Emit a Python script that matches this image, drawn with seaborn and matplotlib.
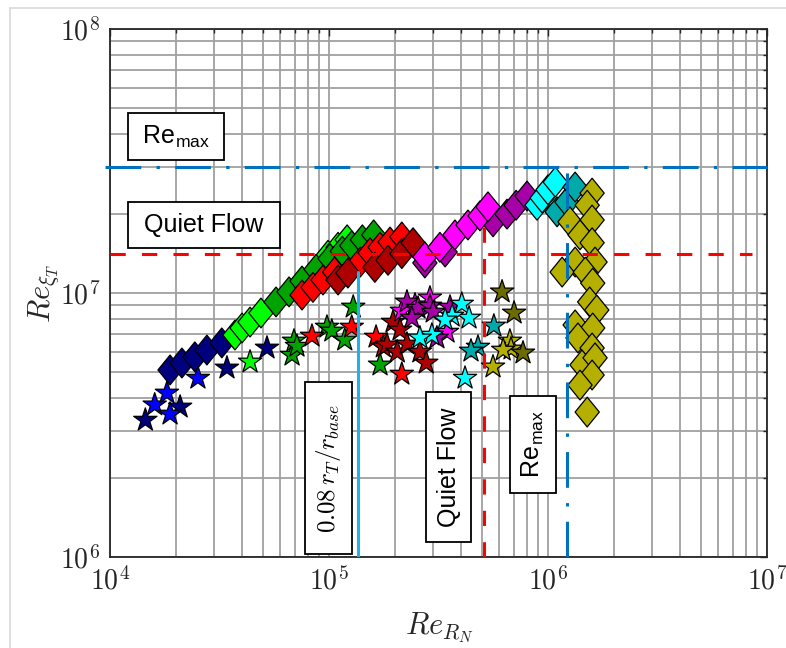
import matplotlib
matplotlib.use("Agg")
import matplotlib.pyplot as plt
from matplotlib.patches import Rectangle
from matplotlib.lines import Line2D
from matplotlib.path import Path
from matplotlib.markers import MarkerStyle
from matplotlib.ticker import LogLocator, NullFormatter
import seaborn as sns
import pandas as pd

sns.set_theme(style="white")
plt.rcParams["font.family"] = ["Liberation Sans", "DejaVu Sans"]
plt.rcParams["mathtext.fontset"] = "cm"

# ---------------------------------------------------------------- colours
series_colors = {
    "navy": "#00007F",
    "blue": "#0000FF",
    "lime": "#00FF00",
    "green": "#00A300",
    "red": "#FF0000",
    "darkred": "#AE0000",
    "magenta": "#FF00FF",
    "purple": "#A800A8",
    "cyan": "#00FFFF",
    "teal": "#00AAAA",
    "olive": "#B5B000",
    "darkolive": "#6B6B00",
}

# ---------------------------------------------------------------- diamond series (Re_RN, Re_xiT)
dia_navy_x = [1.88e4, 2.13e4, 2.44e4, 2.77e4, 3.24e4]
dia_navy_y = [5.11e6, 5.43e6, 5.73e6, 6.08e6, 6.47e6]

dia_lime_x = [3.72e4, 4.01e4, 4.36e4, 4.89e4, 9.9e4, 1.10e5, 1.21e5]
dia_lime_y = [6.93e6, 7.37e6, 7.76e6, 8.40e6, 1.39e7, 1.49e7, 1.59e7]

dia_green_x = [5.73e4, 6.57e4, 7.53e4, 8.73e4, 1.01e5, 1.15e5, 1.27e5, 1.42e5, 1.60e5]
dia_green_y = [9.25e6, 1.01e7, 1.11e7, 1.23e7, 1.35e7, 1.44e7, 1.51e7, 1.59e7, 1.66e7]

dia_red_x = [7.53e4, 8.45e4, 9.39e4, 1.06e5, 1.39e5, 1.54e5, 1.71e5, 1.90e5, 2.15e5]
dia_red_y = [9.82e6, 1.05e7, 1.12e7, 1.20e7, 1.31e7, 1.42e7, 1.49e7, 1.56e7, 1.63e7]

dia_darkred_x = [1.10e5, 1.22e5, 1.62e5, 1.86e5, 2.15e5, 2.42e5]
dia_darkred_y = [1.12e7, 1.19e7, 1.25e7, 1.33e7, 1.41e7, 1.55e7]

dia_purple_x = [2.74e5, 3.39e5, 5.61e5, 6.50e5, 7.15e5, 8.02e5]
dia_purple_y = [1.30e7, 1.43e7, 1.86e7, 1.99e7, 2.15e7, 2.33e7]

dia_magenta_x = [2.74e5, 3.21e5, 3.76e5, 4.31e5, 4.89e5, 5.32e5]
dia_magenta_y = [1.37e7, 1.49e7, 1.66e7, 1.81e7, 1.96e7, 2.12e7]

dia_cyan_x = [8.91e5, 9.40e5, 1.00e6, 1.08e6]
dia_cyan_y = [2.15e7, 2.29e7, 2.46e7, 2.63e7]

dia_teal_x = [1.10e6, 1.22e6, 1.33e6]
dia_teal_y = [2.03e7, 2.21e7, 2.52e7]

dia_olive_x = [1.59e6, 1.51e6, 1.26e6, 1.59e6, 1.40e6, 1.59e6, 1.33e6, 1.16e6, 1.64e6,
               1.48e6, 1.60e6, 1.55e6, 1.67e6, 1.33e6, 1.60e6, 1.37e6, 1.59e6, 1.43e6,
               1.64e6, 1.59e6, 1.40e6, 1.51e6]
dia_olive_y = [2.39e7, 2.15e7, 1.86e7, 1.89e7, 1.66e7, 1.55e7, 1.31e7, 1.20e7, 1.31e7,
               1.20e7, 1.09e7, 9.25e6, 8.62e6, 7.57e6, 7.37e6, 6.76e6, 6.19e6, 5.34e6,
               5.68e6, 4.89e6, 4.48e6, 3.54e6]

# ---------------------------------------------------------------- star series (Re_RN, Re_xiT)
star_navy_x = [1.45e4, 2.09e4, 3.42e4, 5.21e4]
star_navy_y = [3.30e6, 3.70e6, 5.20e6, 6.19e6]

star_blue_x = [1.60e4, 1.82e4, 1.88e4, 2.52e4]
star_blue_y = [3.77e6, 4.18e6, 3.48e6, 4.76e6]

star_lime_x = [4.36e4]
star_lime_y = [5.48e6]

star_green_x = [6.92e4, 6.78e4, 7.14e4, 9.79e4, 1.03e5, 1.29e5, 1.18e5, 1.71e5]
star_green_y = [6.58e6, 5.82e6, 6.29e6, 7.43e6, 7.18e6, 8.85e6, 6.64e6, 5.34e6]

star_red_x = [8.36e4, 1.27e5, 1.64e5, 2.15e5]
star_red_y = [6.87e6, 7.43e6, 6.81e6, 4.93e6]

star_darkred_x = [1.96e5, 2.11e5, 1.77e5, 1.84e5, 2.05e5, 2.27e5, 2.60e5, 2.78e5]
star_darkred_y = [7.76e6, 7.25e6, 6.25e6, 6.36e6, 5.98e6, 6.41e6, 5.98e6, 5.43e6]

star_magenta_x = [2.15e5, 2.47e5, 2.89e5, 3.46e5]
star_magenta_y = [8.55e6, 9.02e6, 9.58e6, 7.11e6]

star_purple_x = [2.27e5, 2.55e5, 2.89e5, 2.99e5, 3.57e5, 3.11e5, 2.39e5]
star_purple_y = [9.25e6, 8.77e6, 8.93e6, 8.47e6, 8.85e6, 6.76e6, 8.04e6]

star_cyan_x = [4.04e5, 4.36e5, 3.65e5, 2.95e5, 2.60e5, 4.18e5, 3.39e5]
star_cyan_y = [9.08e6, 8.04e6, 8.18e6, 6.93e6, 6.76e6, 4.76e6, 7.91e6]

star_teal_x = [5.66e5, 4.79e5, 4.45e5]
star_teal_y = [7.50e6, 6.24e6, 6.03e6]

star_olive_x = [6.70e5, 6.78e5, 5.61e5, 6.24e5]
star_olive_y = [6.58e6, 6.14e6, 5.25e6, 6.08e6]

star_darkolive_x = [6.17e5, 7.00e5, 7.69e5]
star_darkolive_y = [1.01e7, 8.40e6, 5.93e6]

# ---------------------------------------------------------------- reference levels
re_max_level = 3.0e7        # Re_max on Re_xiT
re_max_level_start = 9.5e3  # left end of the Re_max level line
quiet_level = 1.4e7         # quiet-flow limit on Re_xiT
quiet_level_end = 8.5e6     # right end of the quiet-flow level line
re_max_rn = 1.22e6          # Re_max on Re_RN
quiet_rn = 5.1e5            # quiet-flow limit on Re_RN
quiet_rn_top = 1.8e7
rtip_rn = 1.36e5            # 0.08 r_T / r_base on Re_RN
rtip_rn_top = 1.2e7

x_limits = [1e4, 1e7]
y_limits = [1e6, 1e8]
x_ticks = [1e4, 1e5, 1e6, 1e7]
x_tick_labels = [r"$10^{4}$", r"$10^{5}$", r"$10^{6}$", r"$10^{7}$"]
y_ticks = [1e6, 1e7, 1e8]
y_tick_labels = [r"$10^{6}$", r"$10^{7}$", r"$10^{8}$"]


def make_frame(series):
    parts = [pd.DataFrame({"Re_RN": x, "Re_xiT": y, "series": name}) for name, x, y in series]
    return pd.concat(parts, ignore_index=True)


diamonds = make_frame([
    ("navy", dia_navy_x, dia_navy_y),
    ("lime", dia_lime_x, dia_lime_y),
    ("green", dia_green_x, dia_green_y),
    ("red", dia_red_x, dia_red_y),
    ("darkred", dia_darkred_x, dia_darkred_y),
    ("purple", dia_purple_x, dia_purple_y),
    ("magenta", dia_magenta_x, dia_magenta_y),
    ("cyan", dia_cyan_x, dia_cyan_y),
    ("teal", dia_teal_x, dia_teal_y),
    ("olive", dia_olive_x, dia_olive_y),
])

stars = make_frame([
    ("navy", star_navy_x, star_navy_y),
    ("blue", star_blue_x, star_blue_y),
    ("lime", star_lime_x, star_lime_y),
    ("green", star_green_x, star_green_y),
    ("red", star_red_x, star_red_y),
    ("darkred", star_darkred_x, star_darkred_y),
    ("magenta", star_magenta_x, star_magenta_y),
    ("purple", star_purple_x, star_purple_y),
    ("cyan", star_cyan_x, star_cyan_y),
    ("teal", star_teal_x, star_teal_y),
    ("olive", star_olive_x, star_olive_y),
    ("darkolive", star_darkolive_x, star_darkolive_y),
])

# slightly tall diamond marker
diamond = MarkerStyle(Path([(0, 1.23), (1, 0), (0, -1.23), (-1, 0), (0, 1.23)],
                           [Path.MOVETO, Path.LINETO, Path.LINETO, Path.LINETO, Path.CLOSEPOLY]))

fig = plt.figure(figsize=(7.86, 6.48), dpi=100)
ax = fig.add_axes([110 / 786, 91 / 648, 657 / 786, 528 / 648])
ax.set_xscale("log")
ax.set_yscale("log")

sns.scatterplot(data=diamonds, x="Re_RN", y="Re_xiT", hue="series", palette=series_colors,
                marker=diamond, s=460, edgecolor="black", linewidth=0.9, legend=False,
                ax=ax, zorder=3)
sns.scatterplot(data=stars, x="Re_RN", y="Re_xiT", hue="series", palette=series_colors,
                marker="*", s=310, edgecolor="black", linewidth=0.9, legend=False,
                ax=ax, zorder=3)

# reference lines
blue = "#0072BD"
dashdot = (11.7, 5, 1.1, 5)
dashed = (5, 5.3)
ax.plot([re_max_level_start, x_limits[1]], [re_max_level, re_max_level], color=blue, lw=2.2,
        dashes=dashdot, zorder=4, clip_on=False)
ax.plot([x_limits[0], quiet_level_end], [quiet_level, quiet_level], color="#FF0000", lw=2.2,
        dashes=dashed, zorder=4)
ax.plot([re_max_rn, re_max_rn], [y_limits[0], re_max_level], color=blue, lw=2.2,
        dashes=dashdot, zorder=4)
ax.plot([quiet_rn, quiet_rn], [y_limits[0], quiet_rn_top], color="#FF0000", lw=2.2,
        dashes=dashed, zorder=4)
ax.plot([rtip_rn, rtip_rn], [y_limits[0], rtip_rn_top], color="#22B0E8", lw=2.2, zorder=4)

# axes styling
ax.set_xlim(x_limits)
ax.set_ylim(y_limits)
ax.set_xticks(x_ticks)
ax.set_xticklabels(x_tick_labels)
ax.set_yticks(y_ticks)
ax.set_yticklabels(y_tick_labels)
for axis in (ax.xaxis, ax.yaxis):
    axis.set_minor_locator(LogLocator(base=10, subs=range(2, 10), numticks=20))
    axis.set_minor_formatter(NullFormatter())
ax.set_axisbelow(True)
ax.grid(True, which="both", color="#A0A0A0", linewidth=1.3)
ax.tick_params(which="both", direction="in", top=True, right=True, color="#262626",
               labelcolor="#262626", labelsize=20, width=1.0)
ax.tick_params(which="major", length=5, pad=7)
ax.tick_params(which="minor", length=3)
for sp in ax.spines.values():
    sp.set_color("#262626")
    sp.set_linewidth(1.3)

ax.set_xlabel(r"$Re_{R_N}$", fontsize=22, color="#262626")
ax.set_ylabel(r"$Re_{\xi_T}$", fontsize=22, color="#262626")
ax.xaxis.set_label_coords(0.502, -0.10)
ax.yaxis.set_label_coords(-0.075, 0.5)


def boxed_label(x0, y0, w, h, text, rotation=0, **kw):
    ax.add_patch(Rectangle((x0, y0), w, h, transform=ax.transAxes, facecolor="white",
                           edgecolor="black", lw=1.3, zorder=6, clip_on=False))
    ax.text(x0 + w / 2, y0 + h / 2, text, transform=ax.transAxes, ha="center", va="center",
            rotation=rotation, zorder=7, color="black", **kw)


boxed_label(0.0274, 0.7519, 0.1461, 0.0890, r"Re$_{\mathregular{max}}$", fontsize=18)
boxed_label(0.0274, 0.5852, 0.2314, 0.0871, "Quiet Flow", fontsize=18)
boxed_label(0.2968, 0.0057, 0.0715, 0.3258, r"$0.08\,r_T/r_{base}$", rotation=90, fontsize=18)
boxed_label(0.4810, 0.0284, 0.0685, 0.2841, "Quiet Flow", rotation=90, fontsize=18)
boxed_label(0.6088, 0.1212, 0.0700, 0.1837, r"Re$_{\mathregular{max}}$", rotation=90, fontsize=18)

# thin outer frame
fig.add_artist(Line2D([10 / 786, 10 / 786], [0, 1 - 8 / 648], color="#D9D9D9", lw=1.2))
fig.add_artist(Line2D([10 / 786, 1], [1 - 8 / 648, 1 - 8 / 648], color="#D9D9D9", lw=1.2))

fig.savefig("out.png", dpi=100, facecolor="white")
